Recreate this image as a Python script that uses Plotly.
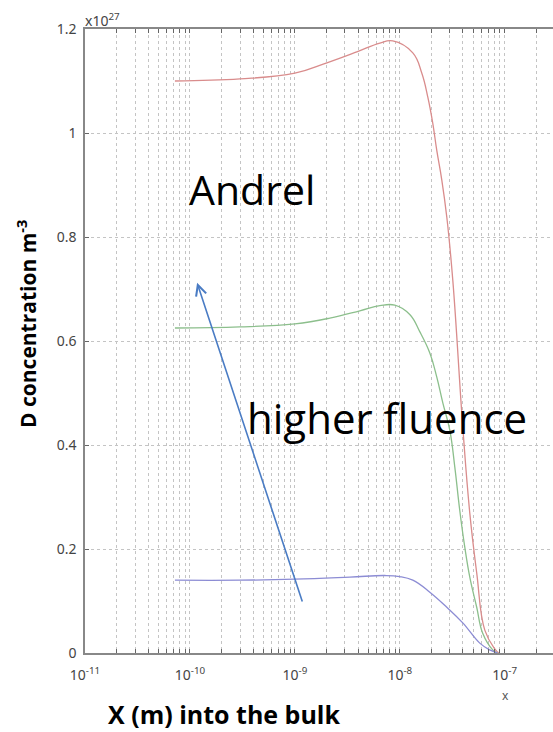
import numpy as np
import plotly.graph_objects as go

# Depth into the bulk as log10(x / m), and D concentration in units of 1e27 m^-3
red_logx = [-10.143, -9.524, -9.0, -8.695, -8.410, -8.190, -8.067, -7.876, -7.790,
            -7.733, -7.686, -7.648, -7.600, -7.552, -7.495, -7.400, -7.333, -7.267,
            -7.190, -7.095, -7.057]
red_conc = [1.100, 1.104, 1.115, 1.135, 1.156, 1.173, 1.177, 1.154, 1.115,
            1.069, 1.019, 0.967, 0.910, 0.838, 0.717, 0.435, 0.269, 0.154,
            0.044, 0.008, 0.0]

green_logx = [-10.143, -9.524, -9.0, -8.667, -8.381, -8.190, -8.048, -7.905, -7.810,
              -7.714, -7.648, -7.590, -7.524, -7.476, -7.429, -7.381, -7.333,
              -7.267, -7.210, -7.114, -7.067]
green_conc = [0.625, 0.627, 0.633, 0.644, 0.658, 0.668, 0.669, 0.651, 0.618,
              0.577, 0.531, 0.481, 0.429, 0.358, 0.275, 0.204, 0.146,
              0.088, 0.038, 0.006, 0.0]

blue_logx = [-10.143, -9.524, -9.0, -8.476, -8.143, -8.0, -7.876, -7.714, -7.552,
             -7.400, -7.238, -7.143, -7.067]
blue_conc = [0.140, 0.140, 0.142, 0.146, 0.149, 0.147, 0.140, 0.117, 0.088,
             0.058, 0.019, 0.006, 0.0]

y_ticks = [0, 0.2, 0.4, 0.6, 0.8, 1.0, 1.2]
y_labels = ["0", "0.2", "0.4", "0.6", "0.8", "1", "1.2"]

series = [
    (red_logx, red_conc, "#d98c8c"),
    (green_logx, green_conc, "#8cbf8c"),
    (blue_logx, blue_conc, "#8c8cd4"),
]

fig = go.Figure()
for lx, conc, col in series:
    fig.add_trace(go.Scatter(
        x=[10 ** v for v in lx], y=conc, mode="lines",
        line=dict(color=col, width=1.3, shape="spline", smoothing=1.2),
        showlegend=False, hoverinfo="skip"))

# log tick positions: every 1..9 x 10^n, labels only on powers of ten
tickvals, ticktext = [], []
for d in range(-11, -6):
    for m in range(1, 10):
        v = m * 10.0 ** d
        if v > 3.5e-7:
            break
        tickvals.append(v)
        ticktext.append(f"10<sup>{d}</sup>" if m == 1 else "")

axis_font = dict(family="Noto Sans, Liberation Sans, sans-serif", size=14, color="#444")
grid_col = "#c4c4c4"

fig.update_layout(
    width=553, height=732,
    margin=dict(l=85, r=0, t=29, b=79),
    paper_bgcolor="white", plot_bgcolor="white",
    xaxis=dict(
        type="log", range=[-11, -6.54],
        tickvals=tickvals, ticktext=ticktext,
        ticks="inside", ticklen=4, tickcolor="#666", tickwidth=1,
        ticklabelstandoff=8,
        showgrid=True, gridcolor=grid_col, griddash="dot", gridwidth=1,
        showline=True, linecolor="#888", linewidth=1.5, mirror="allticks",
        tickfont=axis_font, zeroline=False,
    ),
    yaxis=dict(
        range=[0, 1.2], tickvals=y_ticks, ticktext=y_labels,
        ticks="inside", ticklen=4, tickcolor="#666",
        ticklabelstandoff=4,
        showgrid=True, gridcolor=grid_col, griddash="dot", gridwidth=1,
        showline=True, linecolor="#888", linewidth=1.5, mirror=False,
        tickfont=axis_font, zeroline=False,
    ),
)

# arrow indicating increasing fluence
fig.add_annotation(
    x=np.log10(1.17e-10), y=0.712, ax=np.log10(1.19e-9), ay=0.096,
    xref="x", yref="y", axref="x", ayref="y",
    showarrow=True, arrowhead=5, arrowsize=1.3, arrowwidth=1.6,
    arrowcolor="#4a7cc4", text="")

W, H = 468, 624  # plot area size in px


def px(xp, yp):
    return (xp - 85) / W, (653 - yp) / H


big_font = dict(family="Open Sans, Noto Sans, sans-serif", size=41, color="black")
x0, y0 = px(252, 189)
fig.add_annotation(x=x0, y=y0, xref="paper", yref="paper", xanchor="center", yanchor="middle",
                   text="Andrel", showarrow=False, font=big_font)
x0, y0 = px(387, 417)
fig.add_annotation(x=x0, y=y0, xref="paper", yref="paper", xanchor="center", yanchor="middle",
                   text="higher fluence", showarrow=False,
                   font=dict(family="Open Sans, Noto Sans, sans-serif", size=42, color="black"))

# axis titles and exponent label
x0, y0 = px(224, 714)
fig.add_annotation(x=x0, y=y0, xref="paper", yref="paper", xanchor="center", yanchor="middle",
                   text="<b>X (m) into the bulk</b>", showarrow=False,
                   font=dict(family="Open Sans, Noto Sans, sans-serif", size=25, color="black"))
x0, y0 = px(26, 324)
fig.add_annotation(x=x0, y=y0, xref="paper", yref="paper", xanchor="center", yanchor="middle",
                   text="<b>D concentration m<sup>-3</sup></b>", textangle=-90, showarrow=False,
                   font=dict(family="Open Sans, Noto Sans, sans-serif", size=21, color="black"))
x0, y0 = px(83, 29)
fig.add_annotation(x=x0, y=y0, xref="paper", yref="paper", xanchor="left", yanchor="bottom",
                   yshift=-3, text="x10<sup>27</sup>", showarrow=False, font=axis_font)
x0, y0 = px(505, 695)
fig.add_annotation(x=x0, y=y0, xref="paper", yref="paper", xanchor="center", yanchor="middle",
                   text="x", showarrow=False,
                   font=dict(family="Noto Sans, sans-serif", size=12, color="#555"))

fig.write_html("out.html")
